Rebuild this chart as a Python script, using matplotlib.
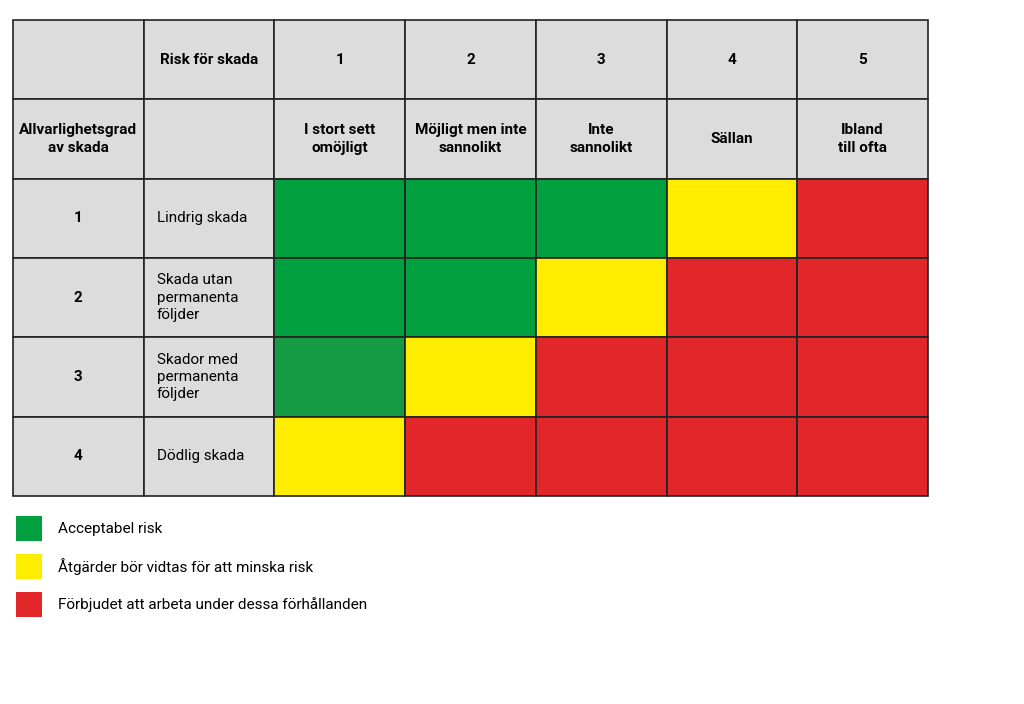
import matplotlib
matplotlib.use('Agg')
import matplotlib.pyplot as plt
from matplotlib.patches import Rectangle

plt.rcParams['font.family'] = ['Roboto', 'Liberation Sans', 'DejaVu Sans']

prob_nums = ['1', '2', '3', '4', '5']
prob_labels = ['I stort sett\nomöjligt', 'Möjligt men inte\nsannolikt', 'Inte\nsannolikt', 'Sällan', 'Ibland\ntill ofta']
sev_nums = ['1', '2', '3', '4']
sev_labels = ['Lindrig skada', 'Skada utan\npermanenta\nföljder', 'Skador med\npermanenta\nföljder', 'Dödlig skada']
# 0 = acceptabel, 1 = åtgärder, 2 = förbjudet
risk = [
    [0, 0, 0, 1, 2],
    [0, 0, 1, 2, 2],
    [0, 1, 2, 2, 2],
    [1, 2, 2, 2, 2],
]
legend_texts = ['Acceptabel risk', 'Åtgärder bör vidtas för att minska risk',
                'Förbjudet att arbeta under dessa förhållanden']

colors = ['#00A03E', '#FFED00', '#E2272B']
grey = '#DCDCDC'

fig = plt.figure(figsize=(10.24, 7.04), dpi=100)
ax = fig.add_axes([0, 0, 1, 1])
ax.set_xlim(0, 1024)
ax.set_ylim(704, 0)
ax.axis('off')

x0, y0, cw, rh = 13, 20, 130.7, 79.3

def cell(c, r, color):
    ax.add_patch(Rectangle((x0 + c * cw, y0 + r * rh), cw, rh, facecolor=color,
                           edgecolor='#222222', lw=1.2))

def center(c, r):
    return x0 + (c + 0.5) * cw, y0 + (r + 0.5) * rh

bold = dict(fontsize=11, fontweight='bold', ha='center', va='center', linespacing=1.3)

# header rows
for c in range(7):
    cell(c, 0, grey)
    cell(c, 1, grey)
ax.text(*center(1, 0), 'Risk för skada', **bold)
for i, n in enumerate(prob_nums):
    ax.text(*center(i + 2, 0), n, **bold)
    ax.text(*center(i + 2, 1), prob_labels[i], **bold)
ax.text(*center(0, 1), 'Allvarlighetsgrad\nav skada', **bold)

# body
for r in range(4):
    cell(0, r + 2, grey)
    cell(1, r + 2, grey)
    ax.text(*center(0, r + 2), sev_nums[r], **bold)
    cx, cy = center(1, r + 2)
    ax.text(x0 + cw + 13, cy, sev_labels[r], fontsize=11, ha='left', va='center',
            linespacing=1.3)
    for c in range(5):
        col = colors[risk[r][c]]
        if r == 2 and c == 0:
            col = '#169B45'
        cell(c + 2, r + 2, col)

# legend
for i, t in enumerate(legend_texts):
    y = 516 + i * 38
    ax.add_patch(Rectangle((16, y), 26, 25, facecolor=colors[i], edgecolor='none'))
    ax.text(58, y + 12.5, t, fontsize=11, ha='left', va='center')

fig.savefig('out.png', dpi=100, facecolor='white')
